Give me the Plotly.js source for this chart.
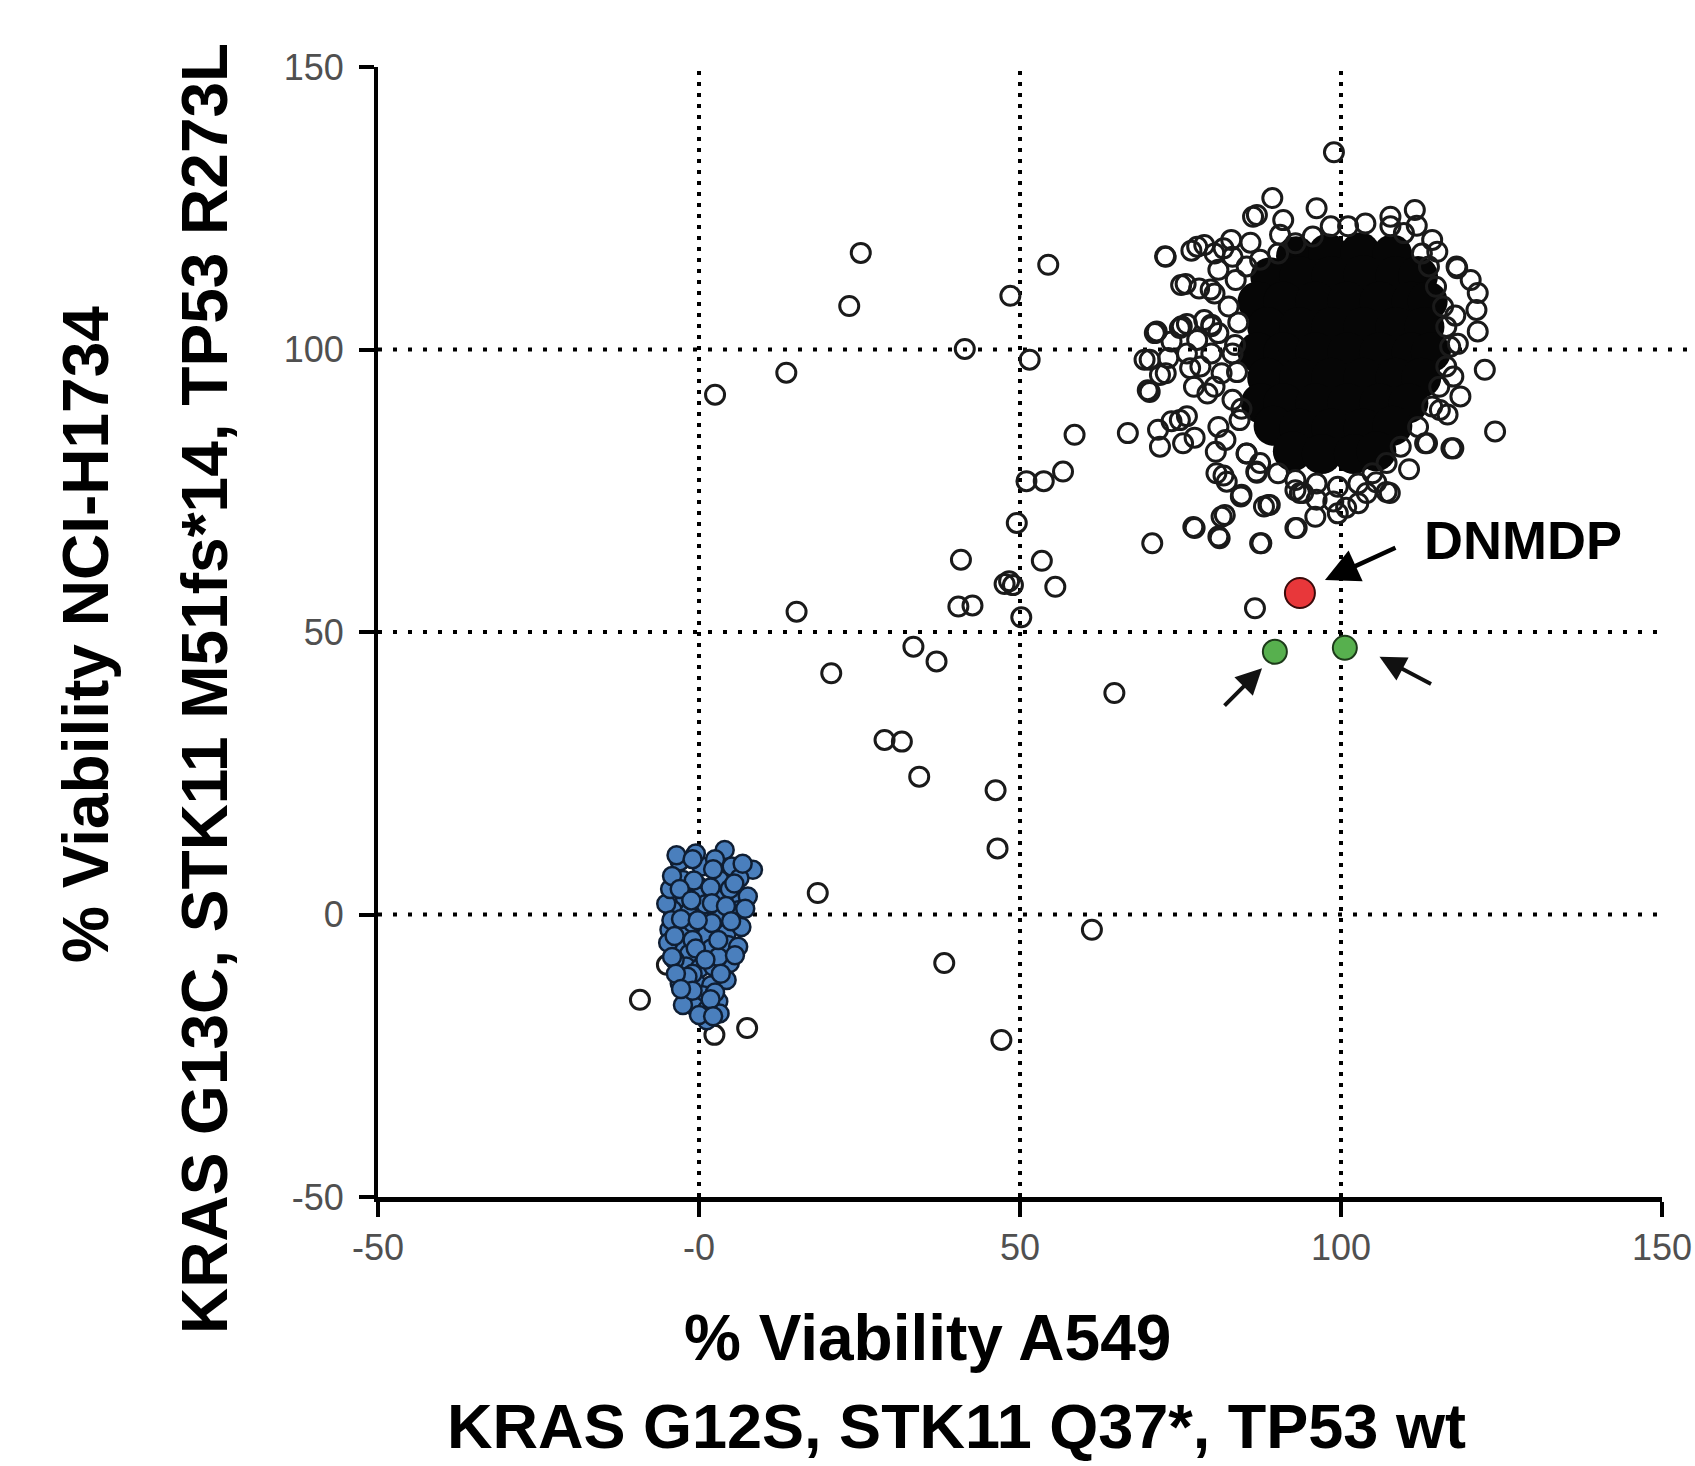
<!DOCTYPE html>
<html>
<head>
<meta charset="utf-8">
<script src="https://cdn.plot.ly/plotly-3.0.1.min.js"></script>
<style>html,body{margin:0;padding:0;background:#fff;}#chart{width:1695px;height:1466px;}</style>
</head>
<body>
<div id="chart"></div>
<script>
// ---------- data ----------
var xTickVals = [-50, 0, 50, 100, 150];
var xTickText = ['-50', '-0', '50', '100', '150'];
var yTickVals = [-50, 0, 50, 100, 150];
var yTickText = ['-50', '0', '50', '100', '150'];
var gridX = [0, 50, 100];
var gridY = [0, 50, 100];

// scattered compounds (open circles) away from the main cloud
var outlierX = [98.9, 25.2, 23.4, 54.4, 48.5, 41.4, 51.5, 13.6, 2.5, 58.5, 56.7, 53.7, 51.0, 49.5, 40.8, 53.4, 47.6, 48.3, 48.9, 55.5, 40.4, 42.6, 50.2, 15.2, 20.6, 33.4, 37.0, 28.9, 31.6, 34.3, 46.2, 46.5, 18.5, 61.2, 38.2, 47.1, 64.7, 86.6, -9.2, 2.4, 7.5, -5.0];
var outlierY = [134.9, 117.1, 107.7, 115.0, 109.5, 100.1, 98.2, 95.9, 92.0, 84.9, 78.4, 76.7, 76.7, 69.3, 62.8, 62.6, 58.5, 59.0, 58.3, 58.0, 54.5, 54.7, 52.6, 53.6, 42.7, 47.4, 44.8, 30.9, 30.6, 24.4, 22.0, 11.7, 3.8, -2.7, -8.6, -22.2, 39.2, 54.2, -15.1, -21.3, -20.1, -8.9];

// open circles around the edge of the main cloud
var cloudX = [66.8, 71.5, 74.9, 71.8, 75.4, 71.3, 75.2, 79.8, 73.6, 70.2, 73.1, 76.5, 71.8, 70.2,
  80.6, 82.2, 84.5, 88.7, 81.9, 77.2, 81.1, 87.6, 93.1, 86.8, 85.3, 93.6, 70.6,
  89.3, 96.2, 86.3, 91.0, 111.5, 107.7, 72.7, 78.7, 81.7, 75.1, 77.9, 79.8, 71.0, 74.9, 69.4, 72.7, 69.9,
  118.0, 120.2, 121.3, 121.1, 121.3, 122.4, 124.0, 118.6, 113.4, 117.2,
  84.4, 88.0, 92.9, 107.1, 81.4, 77.0, 80.9, 87.4, 92.9,
  114.2, 115.0, 118.1, 115.4, 113.1, 117.5, 107.6, 104.0, 94.1, 98.8, 88.9, 86.9,
  77.6, 80.3, 83.1, 85.3, 87.4, 90.2, 92.9, 95.6, 98.4, 101.1, 103.8, 107.7, 109.8, 112.6, 113.7, 114.8, 115.9, 116.4, 117.0, 116.4, 115.3, 114.2, 112.0, 109.3, 107.1, 104.9, 102.7, 99.5, 96.2, 92.9, 90.2, 87.4, 85.3, 82.0, 80.9, 84.2, 83.1, 80.3, 77.1, 79.2, 78.1, 81.4, 79.8, 83.1, 80.9, 82.5, 80.3, 83.6, 80.9,
  78.7, 77.6, 76.0, 72.6, 76.7, 82.9, 86.9, 75.8, 79.7, 76.0, 73.6, 76.0, 77.2, 80.5, 81.7,
  96.0, 99.5, 102.7, 96.2, 100.8, 105.5, 110.6, 111.8, 90.5, 85.9,
  84.0, 83.5, 83.8, 84.5, 117.8, 118.2, 117.5, 116.6];
var cloudY = [85.2, 85.8, 87.5, 82.8, 83.4, 103.2, 104.1, 104.4, 101.4, 98.2, 98.5, 96.7, 95.5, 92.5,
  78.1, 76.6, 74.3, 72.5, 70.7, 68.4, 66.6, 65.7, 68.4, 78.4, 81.6, 74.6, 65.7,
  126.8, 125.0, 123.5, 122.9, 124.7, 123.5, 116.4, 118.5, 117.9, 111.4, 110.8, 104.1, 102.9, 103.8, 98.2, 95.8, 92.8,
  114.7, 112.3, 110.0, 107.0, 103.2, 96.4, 85.5, 91.7, 83.4, 82.5,
  74.0, 72.2, 75.1, 74.8, 70.4, 68.6, 66.9, 65.7, 68.4,
  119.4, 117.3, 114.4, 89.3, 83.4, 82.5, 74.6, 74.6, 74.6, 73.1, 72.5, 78.2,
  118.2, 117.0, 116.4, 114.7, 115.9, 117.0, 118.8, 120.0, 121.8, 121.8, 122.3, 121.8, 120.6, 117.0, 114.7, 111.1, 107.6, 104.0, 100.5, 97.0, 93.4, 89.9, 86.3, 82.8, 79.9, 78.1, 76.3, 75.7, 76.3, 76.9, 78.1, 79.9, 81.6, 84.0, 86.3, 87.5, 91.1, 93.4, 93.4, 92.2, 97.0, 95.8, 99.3, 99.3, 102.9, 107.6, 109.9, 112.3, 114.1,
  105.2, 101.7, 99.3, 116.5, 117.5, 119.4, 123.8, 111.6, 110.6, 104.5, 87.3, 88.2, 84.4, 81.9, 77.7,
  70.4, 71.0, 72.8, 73.4, 72.0, 76.5, 78.8, 121.9, 120.3, 118.9,
  104.8, 100.8, 96.0, 89.5, 106.0, 101.0, 95.2, 88.5];

// solid (saturated) centre of the main cloud
var coreX = [93, 98, 103, 108,
  89, 93.5, 98.5, 103.5, 108.5, 112,
  87, 91, 96, 101, 106, 111, 113.5,
  88.5, 93.5, 98.5, 103.5, 108.5, 113,
  87, 91, 96, 101, 106, 111, 114,
  88.5, 93.5, 98.5, 103.5, 108.5, 112.5,
  87.5, 91, 96, 101, 106, 110.5,
  89.5, 93.5, 98.5, 103.5, 108,
  92.5, 97, 102, 105.5];
var coreY = [116.5, 117, 117.2, 116.8,
  112.8, 113, 113, 113.2, 113, 113,
  108.5, 108.5, 108.5, 108.5, 108.5, 108.5, 108.5,
  104, 104, 104, 104, 104, 104,
  99.5, 99.5, 99.5, 99.5, 99.5, 99.5, 99.5,
  95, 95, 95, 95, 95, 95,
  90.5, 90.5, 90.5, 90.5, 90.5, 90.5,
  86.5, 86, 86, 86, 86.5,
  82, 81.5, 81.5, 82];

// blue cluster near (0, 0)
var blueX = [-3.0, 0.4, 4.0, 5.1, 8.4, -2.5, 0.1, 3.2, 6.3, -2.2, 0.1, 3.0, 5.6, 7.6, -4.1, -1.5, 0.9, 3.2, 6.3, -2.5, 1.2, 4.3, 6.6, -3.5, -1.5, 1.9, 4.5, 6.1, -2.0, 0.1, 2.2, 4.8, -3.0, -0.4, 1.9, 4.3, -2.0, 0.6, 3.0, -0.7, 1.2, 3.2, 1.2, -5.1, -4.6, -4.3,
  -3.5, -0.5, 2.5, -4.5, -4.8, -3.8, -1.0, 2.0, 1.0, -1.0, 3.0, -1.0, 2.5, -2.5,
  -1.0, 2.2, 6.8, -4.2, -0.8, 4.8, 1.8, -3.0, -1.2, 2.0, 4.2, -2.8, -0.2, 5.0, -3.8, -0.5, 3.0, -4.2, 1.0, 5.6, -1.8, 3.4, -3.6, -1.0, 1.8, 0.0, 2.2, -2.8, 5.5, 7.2];
var blueY = [9.4, 8.5, 11.4, 8.5, 7.9, 6.1, 4.9, 6.1, 6.4, 2.9, 3.2, 2.6, 2.6, 3.2, 0.8, 0.5, 0.8, -0.4, 0.8, -2.7, -3.6, -3.3, -2.2, -5.7, -6.9, -6.0, -5.4, -5.7, -9.2, -9.5, -9.2, -8.6, -12.2, -12.2, -12.5, -11.6, -14.3, -14.3, -15.4, -16.3, -16.9, -17.5, -18.7, 1.9, -2.7, -1.0,
  10.5, 10.8, 9.8, 4.5, -5.0, -8.0, -1.5, -1.5, 1.8, -4.5, -7.5, -10.5, -13.8, -16.0,
  9.8, 8.0, 9.0, 6.8, 6.0, 4.5, 4.8, 4.5, 2.5, 2.0, 1.5, -0.8, -1.0, -1.2, -3.8, -6.0, -4.5, -7.5, -8.0, -7.2, -11.0, -10.5, -10.5, -13.5, -15.0, -17.8, -18.0, -13.2, 5.5, 1.0];

// highlighted compounds
var dnmdpX = [93.6];
var dnmdpY = [56.9];
var greenX = [89.7, 100.6];
var greenY = [46.5, 47.2];

// ---------- traces ----------
var traces = [
  {x: coreX, y: coreY, type: 'scatter', mode: 'markers', hoverinfo: 'skip', showlegend: false,
   marker: {symbol: 'circle', size: 40, color: '#060606', line: {width: 0}}},
  {x: cloudX, y: cloudY, type: 'scatter', mode: 'markers', showlegend: false,
   marker: {symbol: 'circle-open', size: 19, color: '#1a1a1a', line: {width: 3}}},
  {x: outlierX, y: outlierY, type: 'scatter', mode: 'markers', showlegend: false,
   marker: {symbol: 'circle-open', size: 19, color: '#1a1a1a', line: {width: 3}}},
  {x: blueX, y: blueY, type: 'scatter', mode: 'markers', showlegend: false,
   marker: {symbol: 'circle', size: 18, color: '#4a7fbd', line: {width: 2.5, color: '#0f1e33'}}},
  {x: greenX, y: greenY, type: 'scatter', mode: 'markers', showlegend: false,
   marker: {symbol: 'circle', size: 24, color: '#57b04e', line: {width: 2, color: '#1d3a1a'}}},
  {x: dnmdpX, y: dnmdpY, type: 'scatter', mode: 'markers', showlegend: false,
   marker: {symbol: 'circle', size: 30, color: '#e8373a', line: {width: 2, color: '#3a0a0a'}}}
];

// ---------- layout ----------
var L = 378, R = 1662, T = 67, B = 1197;
var pw = R - L, ph = B - T;
function px(x) { return (x - L) / pw; }
function py(y) { return (B - y) / ph; }

var shapes = [];
gridX.forEach(function (v) {
  shapes.push({type: 'line', xref: 'x', yref: 'y', x0: v, x1: v, y0: -50, y1: 150, layer: 'below',
    line: {color: '#000', width: 4, dash: '4px,7px'}});
});
gridY.forEach(function (v, i) {
  shapes.push({type: 'line', xref: 'paper', yref: 'y', x0: 0, x1: (i === 2 ? 1.023 : 1.0), y0: v, y1: v, layer: 'below',
    line: {color: '#000', width: 4, dash: '4px,11px'}});
});

var titleFont = {family: 'Liberation Sans, Arial, Helvetica, sans-serif', size: 64, color: '#000'};
var annotations = [
  {xref: 'paper', yref: 'paper', x: px(927), y: py(1338), text: '<b>% Viability A549</b>', showarrow: false, font: titleFont, xanchor: 'center', yanchor: 'middle'},
  {xref: 'paper', yref: 'paper', x: px(956), y: py(1426), text: '<b>KRAS G12S, STK11 Q37*, TP53 wt</b>', showarrow: false, font: {family: titleFont.family, size: 63, color: '#000'}, xanchor: 'center', yanchor: 'middle', borderpad: 0},
  {xref: 'paper', yref: 'paper', x: px(86), y: py(635), text: '<b>% Viability NCI-H1734</b>', showarrow: false, font: titleFont, textangle: -90, xanchor: 'center', yanchor: 'middle'},
  {xref: 'paper', yref: 'paper', x: px(205), y: py(689), text: '<b>KRAS G13C, STK11 M51fs*14, TP53 R273L</b>', showarrow: false, font: titleFont, textangle: -90, xanchor: 'center', yanchor: 'middle'},
  {xref: 'x', yref: 'y', x: 128.3, y: 66.3, text: '<b>DNMDP</b>', showarrow: false, xanchor: 'center', yanchor: 'middle',
   font: {family: 'Liberation Sans, Arial, Helvetica, sans-serif', size: 54, color: '#000'}},
  {xref: 'x', yref: 'y', x: 97.5, y: 59.2, ax: 72, ay: -33, text: '', showarrow: true, arrowhead: 2, arrowsize: 1.5, arrowwidth: 4.5, arrowcolor: '#000', standoff: 0},
  {xref: 'x', yref: 'y', x: 87.7, y: 43.6, ax: -39, ay: 39, text: '', showarrow: true, arrowhead: 2, arrowsize: 1.3, arrowwidth: 4, arrowcolor: '#111', standoff: 0},
  {xref: 'x', yref: 'y', x: 106.0, y: 45.6, ax: 53, ay: 28, text: '', showarrow: true, arrowhead: 2, arrowsize: 1.3, arrowwidth: 4, arrowcolor: '#111', standoff: 0}
];

var tickFont = {family: 'Liberation Sans, Arial, Helvetica, sans-serif', size: 36, color: '#505050'};
var layout = {
  width: 1695, height: 1466,
  margin: {l: L, r: 1695 - R, t: T, b: 1466 - B, pad: 0},
  paper_bgcolor: '#fff', plot_bgcolor: '#fff',
  showlegend: false,
  xaxis: {range: [-50, 150], tickmode: 'array', tickvals: xTickVals, ticktext: xTickText,
    showgrid: false, zeroline: false, showline: true, linecolor: '#000', linewidth: 5,
    ticks: 'outside', ticklen: 15, tickwidth: 4, tickcolor: '#000', tickfont: tickFont, ticklabelstandoff: 0},
  yaxis: {range: [-50, 150], tickmode: 'array', tickvals: yTickVals, ticktext: yTickText,
    showgrid: false, zeroline: false, showline: true, linecolor: '#000', linewidth: 4,
    ticks: 'outside', ticklen: 15, tickwidth: 4, tickcolor: '#000', tickfont: tickFont, ticklabelstandoff: 8},
  shapes: shapes,
  annotations: annotations
};

Plotly.newPlot('chart', traces, layout, {displayModeBar: false, staticPlot: true});
</script>
</body>
</html>
